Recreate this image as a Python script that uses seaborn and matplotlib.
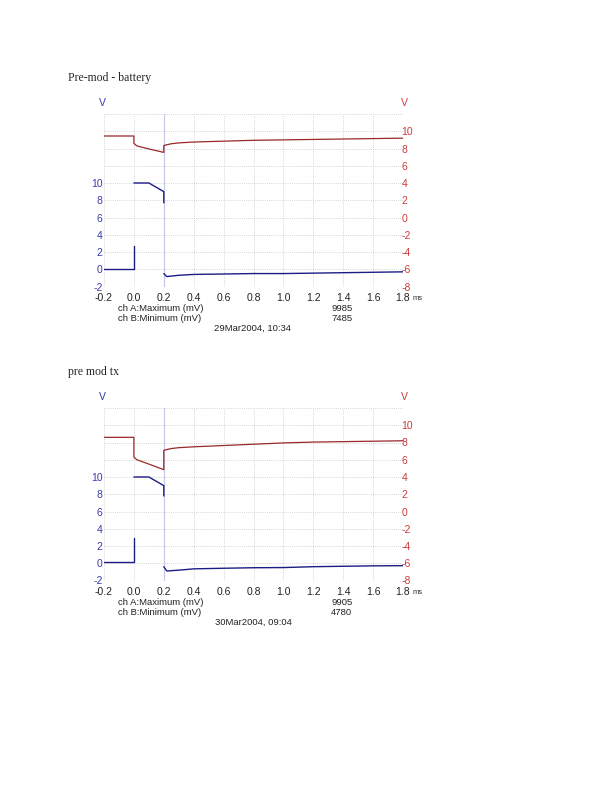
import matplotlib
matplotlib.use("Agg")
import matplotlib.pyplot as plt
import seaborn as sns
import pandas as pd

# two scope captures: channel A (blue, left V axis), channel B (red, right V axis), time in ms
titles = ["Pre-mod - battery", "pre mod tx"]
dates = ["29Mar2004, 10:34", "30Mar2004, 09:04"]
ch_a_max = [9985, 9905]
ch_b_min = [7485, 4780]

x_ticks = [-0.2, 0.0, 0.2, 0.4, 0.6, 0.8, 1.0, 1.2, 1.4, 1.6, 1.8]

# capture 1 - channel A (segments split by seg id)
a1_t = [-0.2, 0.0, 0.0,
        0.0, 0.1, 0.2, 0.2,
        0.2, 0.22, 0.3, 0.4, 0.6, 0.8, 1.0, 1.2, 1.4, 1.6, 1.8]
a1_v = [0.0, 0.0, 2.7,
        10.0, 10.0, 9.0, 7.7,
        -0.5, -0.85, -0.7, -0.6, -0.55, -0.5, -0.5, -0.45, -0.4, -0.35, -0.3]
a1_seg = [0, 0, 0, 1, 1, 1, 1, 2, 2, 2, 2, 2, 2, 2, 2, 2, 2, 2]

# capture 1 - channel B
b1_t = [-0.2, 0.0, 0.0, 0.02, 0.1, 0.2, 0.2, 0.25, 0.3, 0.4, 0.6, 0.8, 1.0, 1.2, 1.4, 1.6, 1.8]
b1_v = [9.45, 9.45, 8.6, 8.3, 7.95, 7.55, 8.35, 8.55, 8.65, 8.75, 8.85, 8.95, 9.0, 9.05, 9.1, 9.15, 9.2]

# capture 2 - channel A
a2_t = [-0.2, 0.0, 0.0,
        0.0, 0.1, 0.2, 0.2,
        0.2, 0.22, 0.3, 0.4, 0.6, 0.8, 1.0, 1.2, 1.4, 1.6, 1.8]
a2_v = [0.1, 0.1, 2.9,
        10.0, 10.0, 9.0, 7.8,
        -0.4, -0.9, -0.8, -0.65, -0.58, -0.52, -0.5, -0.4, -0.35, -0.3, -0.28]
a2_seg = [0, 0, 0, 1, 1, 1, 1, 2, 2, 2, 2, 2, 2, 2, 2, 2, 2, 2]

# capture 2 - channel B
b2_t = [-0.2, 0.0, 0.0, 0.02, 0.1, 0.2, 0.2, 0.25, 0.3, 0.4, 0.6, 0.8, 1.0, 1.2, 1.4, 1.6, 1.8]
b2_v = [8.6, 8.6, 6.3, 6.0, 5.5, 4.85, 7.1, 7.3, 7.4, 7.5, 7.65, 7.8, 7.95, 8.05, 8.1, 8.15, 8.2]

BLUE = "#1c1c86"
BLUE_TXT = "#3a3ab0"
RED = "#9a2828"
RED_TXT = "#cc3a3a"
GRID = "#c8c8c8"

sns.set_style("white")
plt.rcParams["font.family"] = ["Liberation Sans", "DejaVu Sans"]

W, H = 612, 792
fig = plt.figure(figsize=(W / 100, H / 100), dpi=100)


def fx(px):
    return px / W


def fy(py):
    return 1 - py / H


def draw_capture(off, title, date, amax, bmin, a_t, a_v, a_seg, b_t, b_v):
    left, right, top, bottom = 104, 403, 114 + off, 286.5 + off
    ax = fig.add_axes([fx(left), fy(bottom), fx(right - left), (bottom - top) / H])
    ax2 = ax.twinx()

    da = pd.DataFrame({"t": a_t, "v": a_v, "seg": a_seg})
    db = pd.DataFrame({"t": b_t, "v": b_v, "seg": [0] * len(b_t)})

    sns.lineplot(data=da, x="t", y="v", units="seg", estimator=None, sort=False,
                 color=BLUE, lw=1.0, ax=ax)
    sns.lineplot(data=db, x="t", y="v", units="seg", estimator=None, sort=False,
                 color=RED, lw=0.9, ax=ax2)

    ax.set_xlim(-0.2, 1.8)
    ax.set_ylim(-2, 18)
    ax2.set_ylim(-8, 12)

    lticks = list(range(-2, 20, 2))
    ax.set_yticks(lticks)
    ax.set_yticklabels([str(t) if t <= 10 else "" for t in lticks])
    rticks = list(range(-8, 14, 2))
    ax2.set_yticks(rticks)
    ax2.set_yticklabels([str(t) if t <= 10 else "" for t in rticks])
    ax.set_xticks(x_ticks)
    ax.set_xticklabels([f"{t:.1f}" for t in x_ticks])

    ax.grid(True, color=GRID, ls=(0, (1, 1.5)), lw=0.6)
    ax.axvline(0.2, color="#c4c8f0", lw=0.8, zorder=0)
    ax.set_axisbelow(True)

    ax.tick_params(axis="y", length=0, pad=1, labelsize=7.5, labelcolor=BLUE_TXT)
    ax.tick_params(axis="x", length=0, pad=4.5, labelsize=7.5, labelcolor="#222222")
    ax2.tick_params(axis="y", length=0, pad=-1, labelsize=7.5, labelcolor=RED_TXT)
    ax.set_xlabel("")
    ax.set_ylabel("")
    ax2.set_ylabel("")
    for a in (ax, ax2):
        for s in a.spines.values():
            s.set_visible(False)

    fig.text(fx(68), fy(78 + off), title, family=["Liberation Serif", "DejaVu Serif"],
             fontsize=8.5, va="center", ha="left")
    fig.text(fx(102), fy(103 + off), "V", color=BLUE_TXT, fontsize=7.5, ha="center", va="center")
    fig.text(fx(404), fy(103 + off), "V", color=RED_TXT, fontsize=7.5, ha="center", va="center")
    fig.text(fx(418), fy(298.5 + off), "ms", color="#333333", fontsize=5.5, ha="center", va="center")
    fig.text(fx(118), fy(308.5 + off), "ch A:Maximum (mV)", fontsize=6.8, color="#222222", va="center")
    fig.text(fx(118), fy(318.5 + off), "ch B:Minimum (mV)", fontsize=6.8, color="#222222", va="center")
    fig.text(fx(331), fy(308.5 + off), str(amax), fontsize=6.8, color="#222222", va="center")
    fig.text(fx(331), fy(318.5 + off), str(bmin), fontsize=6.8, color="#222222", va="center")
    fig.text(fx(253), fy(328.5 + off), date, fontsize=6.8, color="#222222", va="center", ha="center")


draw_capture(0, titles[0], dates[0], ch_a_max[0], ch_b_min[0], a1_t, a1_v, a1_seg, b1_t, b1_v)
draw_capture(294, titles[1], dates[1], ch_a_max[1], ch_b_min[1], a2_t, a2_v, a2_seg, b2_t, b2_v)

fig.savefig("out.png", dpi=100)
